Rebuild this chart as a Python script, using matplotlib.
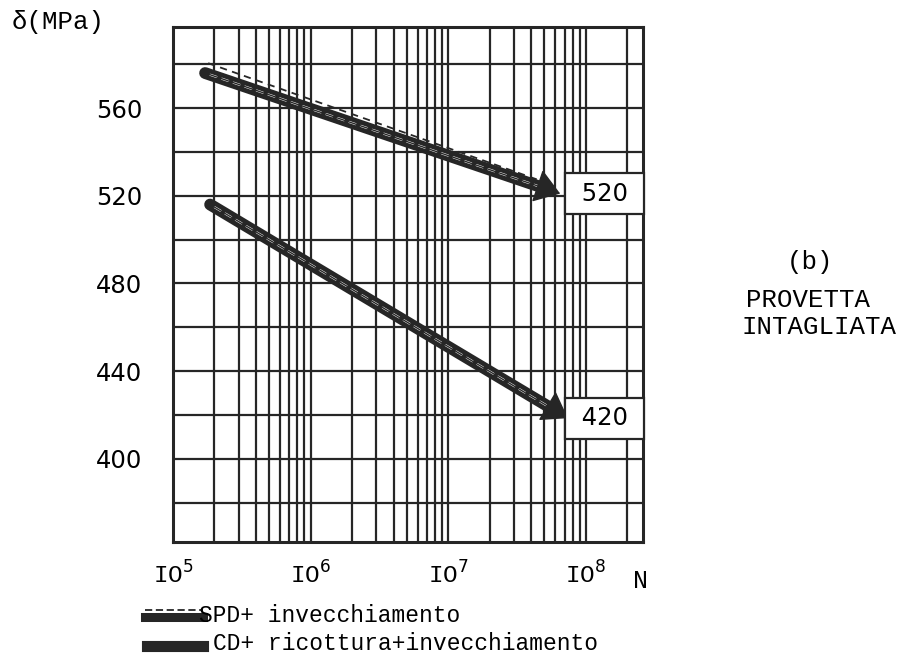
import matplotlib
matplotlib.use("Agg")
import matplotlib.pyplot as plt
from matplotlib.ticker import FixedLocator, MultipleLocator, NullFormatter, LogLocator
from matplotlib.lines import Line2D
import matplotlib.transforms as mtrans

# values
stress_ticks = [400, 440, 480, 520, 560]
decades = [1e5, 1e6, 1e7, 1e8]
decade_labels = ['IO$^5$', 'IO$^6$', 'IO$^7$', 'IO$^8$']

spd_N = [1.71e5, 6.5e7]          # SPD+ invecchiamento band
spd_S = [576, 521]
spd_dash_N = [1.8e5, 5.4e7]      # dashed outline of SPD band
spd_dash_S = [580.5, 525.5]
spd_limit = '520'

cd_N = [1.86e5, 7.4e7]           # CD+ ricottura+invecchiamento band
cd_S = [516, 418.5]
cd_limit = '420'

MONO = 'Liberation Mono'
DARK = '#262626'

fig = plt.figure(figsize=(9.04, 6.64), dpi=100)
ax = fig.add_axes([0.1914, 0.1837, 0.5199, 0.7756])

ax.set_xscale('log')
ax.set_xlim(1e5, 2.6e8)
ax.set_ylim(362, 597)

ax.xaxis.set_major_locator(FixedLocator(decades))
ax.xaxis.set_minor_locator(LogLocator(base=10, subs=range(2, 10), numticks=20))
ax.xaxis.set_minor_formatter(NullFormatter())
ax.set_xticklabels(decade_labels, fontfamily=MONO, fontsize=17.5)

ax.yaxis.set_major_locator(FixedLocator(stress_ticks))
ax.yaxis.set_minor_locator(MultipleLocator(20))
ax.set_yticklabels([str(v) for v in stress_ticks], fontsize=17.5)

ax.tick_params(which='both', length=0)
ax.tick_params(axis='y', pad=22)
ax.tick_params(axis='x', pad=14)
ax.grid(which='both', color=DARK, lw=1.6)
ax.set_axisbelow(True)
for sp in ax.spines.values():
    sp.set_linewidth(2.2)
    sp.set_color(DARK)


def band(N, S, label):
    start, tip = (N[0], S[0]), (N[1], S[1])
    # thick shaft with rounded tail
    ax.annotate('', xy=tip, xytext=start,
                arrowprops=dict(arrowstyle='-', lw=8.5, color=DARK,
                                capstyle='round', shrinkA=0, shrinkB=12))
    # hatched look: white dashes inside the shaft
    ax.annotate('', xy=tip, xytext=start,
                arrowprops=dict(arrowstyle='-', lw=1.6, color='white',
                                linestyle=(0, (3, 2.5)), shrinkA=4, shrinkB=16))
    # arrow head
    ax.annotate('', xy=tip, xytext=start,
                arrowprops=dict(arrowstyle='-|>,head_length=0.8,head_width=0.55',
                                lw=1, color=DARK, mutation_scale=20,
                                shrinkA=0, shrinkB=0))
    tr = mtrans.blended_transform_factory(ax.transAxes, ax.transData)
    ax.text(0.918, S[1], ' ' + label + ' ', transform=tr, ha='center', va='center',
            fontsize=17.5, zorder=5,
            bbox=dict(boxstyle='square,pad=0.35', fc='white', ec=DARK, lw=1.6))


band(spd_N, spd_S, spd_limit)
ax.plot(spd_dash_N, spd_dash_S, color=DARK, lw=1.3, dashes=(4, 3))
band(cd_N, cd_S, cd_limit)

# axis captions
fig.text(12 / 904, 1 - 22 / 664, 'δ(MPa)', fontfamily=MONO, fontsize=18.5, va='center')
fig.text(641 / 904, 1 - 581 / 664, 'N', fontfamily=MONO, fontsize=18,
         ha='center', va='center')

# side note
note_kw = dict(fontfamily=MONO, fontsize=18.5, ha='center', va='center')
fig.text(810 / 904, 1 - 262 / 664, '(b)', **note_kw)
fig.text(808 / 904, 1 - 300 / 664, 'PROVETTA', **note_kw)
fig.text(819 / 904, 1 - 327 / 664, 'INTAGLIATA', **note_kw)

# hand-made legend below the axis
fig.add_artist(Line2D([145 / 904, 203 / 904], [1 - 617 / 664] * 2,
                      transform=fig.transFigure, lw=6.5, color=DARK))
fig.add_artist(Line2D([145 / 904, 203 / 904], [1 - 610 / 664] * 2,
                      transform=fig.transFigure, lw=1.3, color=DARK, dashes=(4, 2)))
fig.add_artist(Line2D([147 / 904, 203 / 904], [1 - 646 / 664] * 2,
                      transform=fig.transFigure, lw=8, color=DARK))
fig.text(199 / 904, 1 - 615 / 664, 'SPD+ invecchiamento', fontfamily=MONO,
         fontsize=16.5, va='center')
fig.text(213 / 904, 1 - 643 / 664, 'CD+ ricottura+invecchiamento', fontfamily=MONO,
         fontsize=16.5, va='center')

fig.savefig('out.png', dpi=100, facecolor='white')
